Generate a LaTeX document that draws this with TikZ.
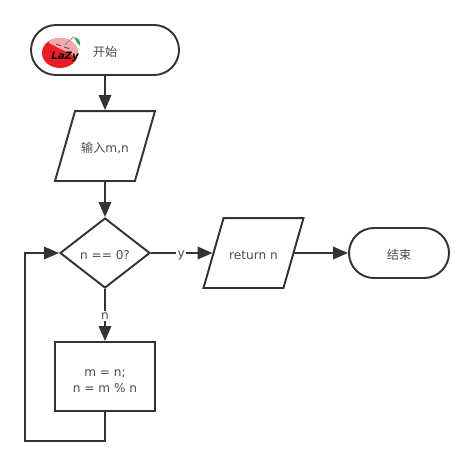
\documentclass[tikz,border=0pt]{standalone}
\usepackage{fontspec}
\setmainfont{DejaVu Sans}
\newfontfamily\cjk{Noto Sans CJK SC}
\usetikzlibrary{arrows.meta,shapes.geometric}
\definecolor{lijn}{HTML}{333333}
\definecolor{tekst}{HTML}{4A4A4A}
\definecolor{appel}{HTML}{ED1C24}
\definecolor{schil}{HTML}{F7A8AC}
\definecolor{blad}{HTML}{22B14C}
\tikzset{
  base/.style={draw=lijn, line width=1.1pt, text=tekst, font=\fontsize{6.9}{9.1}\selectfont, align=center, inner sep=0pt},
  terminal/.style={base, rectangle, rounded corners=0.5cm, minimum height=1cm, text height=7pt, text depth=0pt},
  invoer/.style={base, trapezium, trapezium left angle=74, trapezium right angle=106, minimum width=2cm, inner ysep=16.4pt, trapezium stretches body=true, text height=7pt, text depth=0pt},
  keuze/.style={base, diamond, minimum width=1.8cm, minimum height=1.4cm, aspect=1.286, text height=7pt, text depth=0pt},
  proces/.style={base, rectangle, minimum width=2cm, minimum height=1.38cm},
  lijst/.style={draw=lijn, line width=1.1pt},
  label/.style={fill=white, text=tekst, font=\fontsize{6.9}{9.1}\selectfont, inner sep=1pt}
}
\begin{document}
\begin{tikzpicture}[>={Triangle[length=0.3cm, width=0.25cm]}]
  \useasboundingbox (0,0) rectangle (9.48,9.34);

  % Knopen
  \node[terminal, minimum width=2.96cm] (start) at (2.1,8.34) {\cjk 开始};
  \node[invoer] (input) at (2.1,6.42) {{\cjk 输入}m,n};
  \node[keuze] (test) at (2.1,4.28) {n == 0?};
  \node[invoer] (return) at (5.07,4.28) {return n};
  \node[terminal, minimum width=2cm] (end) at (7.98,4.28) {\cjk 结束};
  \node[proces] (body) at (2.1,1.81) {m = n;\rule{0pt}{9.5pt}\\ n = m \% n};

  % Appel
  \fill[appel] (1.2,8.28) ellipse (0.36 and 0.30);
  \begin{scope}
    \clip (1.2,8.28) ellipse (0.36 and 0.30);
    \fill[schil] (0.98,8.58) -- (1.6,8.58) -- (1.6,8.16) -- (0.98,8.48) -- cycle;
  \end{scope}
  \draw[black!70, line width=0.5pt, densely dashed] (1.12,8.46) -- (1.4,8.36);
  \draw[black!50, line width=0.4pt] (1.3,8.44) -- (1.46,8.6) -- (1.52,8.54);
  \fill[blad] (1.5,8.6) .. controls (1.6,8.54) .. (1.6,8.42) -- (1.53,8.5) -- cycle;
  \node[text=black, inner sep=0pt, font=\fontsize{5.8}{6}\selectfont\bfseries\itshape] (logo) at (1.3,8.2) {LaZy};

  % Verbindingen
  \draw[lijst, ->] (start) -- (input);
  \draw[lijst, ->] (input) -- (test);
  \draw[lijst, ->] (test) -- (return) node[label, pos=0.49, yshift=-0.04cm] (ja) {y};
  \draw[lijst, ->] (return) -- (end);
  \draw[lijst, ->] (test) -- (body) node[label, pos=0.52] (nee) {n};

  % Terugkoppeling
  \coordinate (onder) at (2.1,0.52);
  \coordinate (hoek) at (0.5,0.52);
  \coordinate (links) at (0.5,4.28);
  \draw[lijst, ->] (body) -- (onder) -- (hoek) -- (links) -- (test);

\end{tikzpicture}
\end{document}
